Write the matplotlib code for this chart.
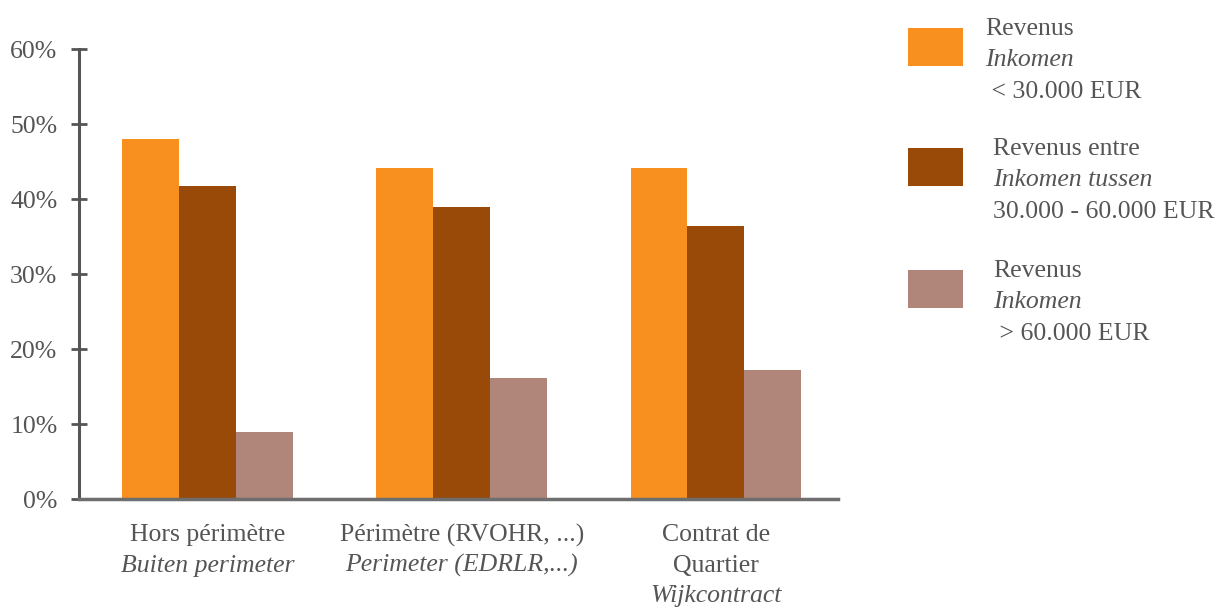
import matplotlib
matplotlib.use("Agg")
import matplotlib.pyplot as plt
from matplotlib.patches import Rectangle
import numpy as np

plt.rcParams['font.family'] = ['Liberation Serif', 'DejaVu Serif']

# Income distribution by zone (% of households)
groups_fr = ["Hors périmètre", "Périmètre (RVOHR, ...)", "Contrat de\nQuartier"]
groups_nl = ["Buiten perimeter", "Perimeter (EDRLR,...)", "Wijkcontract"]
low_income = [48.0, 44.1, 44.1]
mid_income = [41.8, 38.9, 36.4]
high_income = [9.0, 16.2, 17.2]

series = [low_income, mid_income, high_income]
colors = ["#F7901E", "#9A4A08", "#B0857A"]
legend_fr = ["Revenus", "Revenus entre", "Revenus"]
legend_nl = ["Inkomen", "Inkomen tussen", "Inkomen"]
legend_range = [" < 30.000 EUR", "30.000 - 60.000 EUR", " > 60.000 EUR"]
yticks = [0, 10, 20, 30, 40, 50, 60]
ytick_labels = ["0%", "10%", "20%", "30%", "40%", "50%", "60%"]

text_color = "#555555"
axis_color = "#555555"

fig = plt.figure(figsize=(12.21, 6.08), dpi=100)
ax = fig.add_axes([0.0647, 0.179, 0.6216, 0.740])

x = np.arange(len(groups_fr))
width = 0.224
for k, (vals, col) in enumerate(zip(series, colors)):
    ax.bar(x + (k - 1) * width, vals, width=width, color=col, zorder=2)

ax.set_xlim(-0.506, 2.48)
ax.set_ylim(0, 60)
ax.set_yticks(yticks)
ax.set_yticklabels(ytick_labels, fontsize=18.5, color=text_color)
ax.set_xticks([])

for s in ["top", "right"]:
    ax.spines[s].set_visible(False)
ax.spines["left"].set_color(axis_color)
ax.spines["left"].set_linewidth(2.2)
ax.spines["bottom"].set_color("#6e6e6e")
ax.spines["bottom"].set_linewidth(2.5)
ax.spines["bottom"].set_zorder(3)
ax.tick_params(axis="y", direction="inout", length=11, width=2, color=axis_color, pad=10)

# Two-language category labels under the axis
for i in range(len(groups_fr)):
    fr_lines = groups_fr[i].split("\n")
    off = 26
    for line in fr_lines:
        ax.annotate(line, xy=(x[i], 0), xytext=(0, -off), textcoords="offset points",
                    ha="center", va="center", fontsize=18.5, color=text_color,
                    annotation_clip=False)
        off += 22
    ax.annotate(groups_nl[i], xy=(x[i], 0), xytext=(0, -off), textcoords="offset points",
                ha="center", va="center", fontsize=18.5, color=text_color, style="italic",
                annotation_clip=False)

# Legend built from swatches and three-line captions
W, H = 1221, 608
swatch_top = [28, 148, 270]
text_x = [985, 993, 993]
for k in range(3):
    y0 = swatch_top[k]
    fig.patches.append(Rectangle((908 / W, 1 - (y0 + 38) / H), 55 / W, 38 / H,
                                 transform=fig.transFigure, facecolor=colors[k],
                                 edgecolor="none"))
    lines = [(legend_fr[k], "normal"), (legend_nl[k], "italic"), (legend_range[k], "normal")]
    for j, (txt, st) in enumerate(lines):
        fig.text(text_x[k] / W, 1 - (y0 + 1 + j * 31.5) / H, txt, ha="left", va="center",
                 fontsize=18.5, color=text_color, style=st)

fig.savefig("out.png", dpi=100)
